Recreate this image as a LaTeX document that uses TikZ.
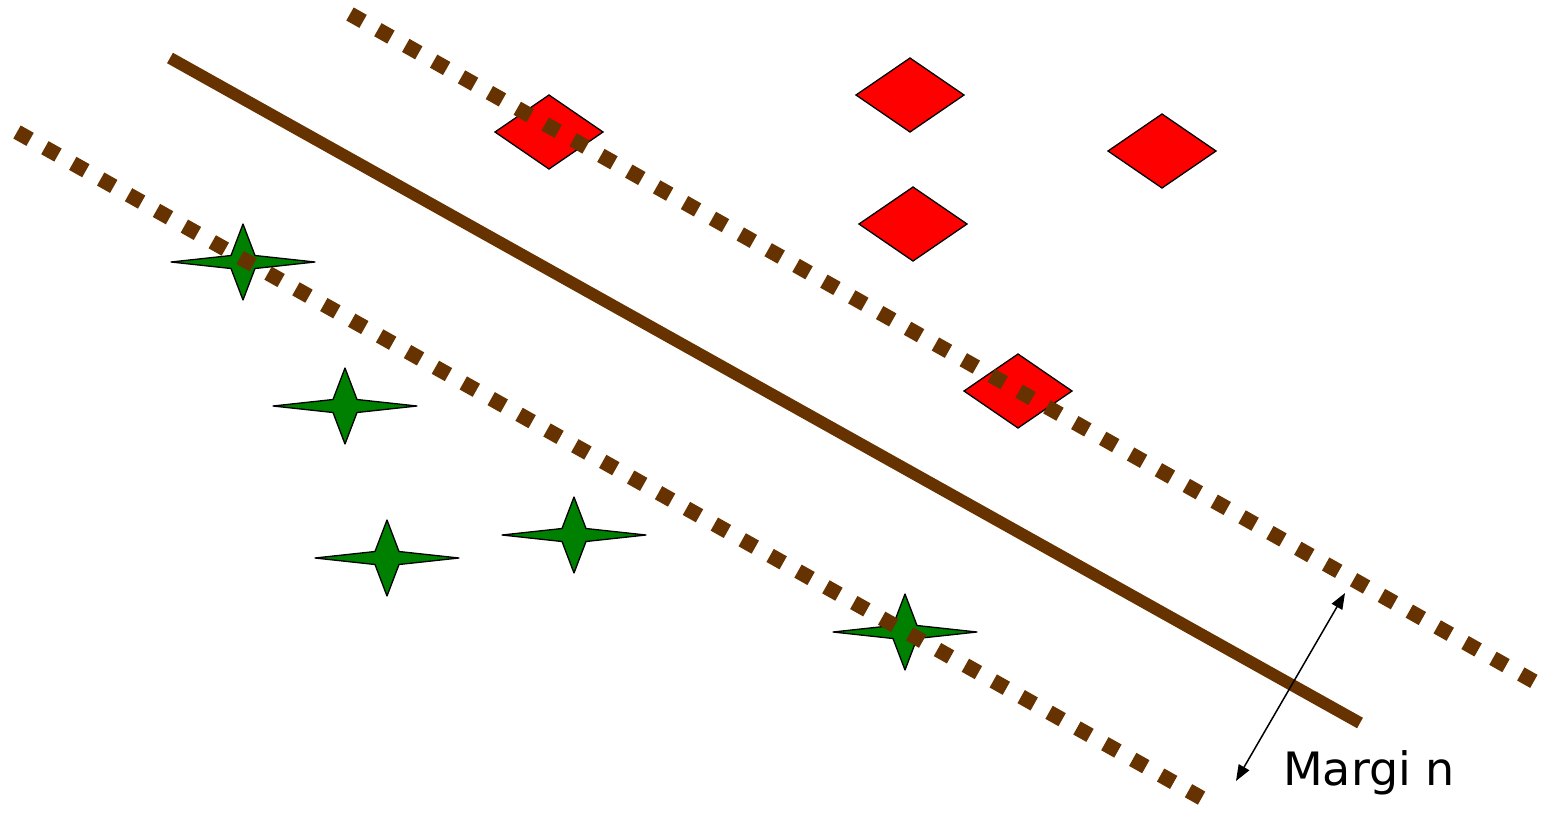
\documentclass[tikz,border=0pt]{standalone}
\usepackage{fontspec}
\setmainfont{DejaVu Sans}
\usetikzlibrary{arrows.meta}
\definecolor{bark}{HTML}{663300}
\definecolor{leaf}{HTML}{008000}
\tikzset{
  hyperplane/.style={draw=bark, line width=12pt, line cap=butt},
  marginline/.style={draw=bark, line width=15pt, line cap=butt, dash pattern=on 15pt off 17pt},
  classA/.pic={\draw[fill=red, line width=1.3pt, line join=miter]
      (-54,0)--(0,-37)--(54,0)--(0,37)--cycle;},
  classB/.pic={\draw[fill=leaf, line width=1.3pt, line join=round]
      (-72,0)--(-12,-6.5)--(0,-38)--(12,-6.5)--(72,0)--(12,6.5)--(0,38)--(-12,6.5)--cycle;},
  gap/.style={draw=black, line width=1.5pt, {Triangle[length=16pt,width=12pt]}-{Triangle[length=16pt,width=12pt]}}
}
\begin{document}
\begin{tikzpicture}[x=1pt,y=-1pt]
\useasboundingbox (0,0) rectangle (1553,812);

% separating line
\coordinate (h1) at (170,58);
\coordinate (h2) at (1360,723);
\draw[hyperplane] (h1) -- (h2);

% positive samples
\pic (d1) at (549,132) {classA};
\pic (d2) at (910,95) {classA};
\pic (d3) at (1162,151) {classA};
\pic (d4) at (913,224) {classA};
\pic (d5) at (1018,391) {classA};

% negative samples
\pic (s1) at (243,262) {classB};
\pic (s2) at (345,406) {classB};
\pic (s3) at (387,558) {classB};
\pic (s4) at (574,535) {classB};
\pic (s5) at (905,632) {classB};

% margin boundaries
\coordinate (u1) at (350,14);
\coordinate (u2) at (1535,682);
\coordinate (l1) at (17,132);
\coordinate (l2) at (1205,800);
\draw[marginline] (u1) -- (u2);
\draw[marginline] (l1) -- (l2);

% margin width
\coordinate (m1) at (1345,593);
\coordinate (m2) at (1236,781);
\draw[gap] (m2) -- (m1);
\node[anchor=base west, font=\fontsize{46}{50}\selectfont, inner sep=0pt] (lbl) at (1283,785) {Margi n};
\end{tikzpicture}
\end{document}
